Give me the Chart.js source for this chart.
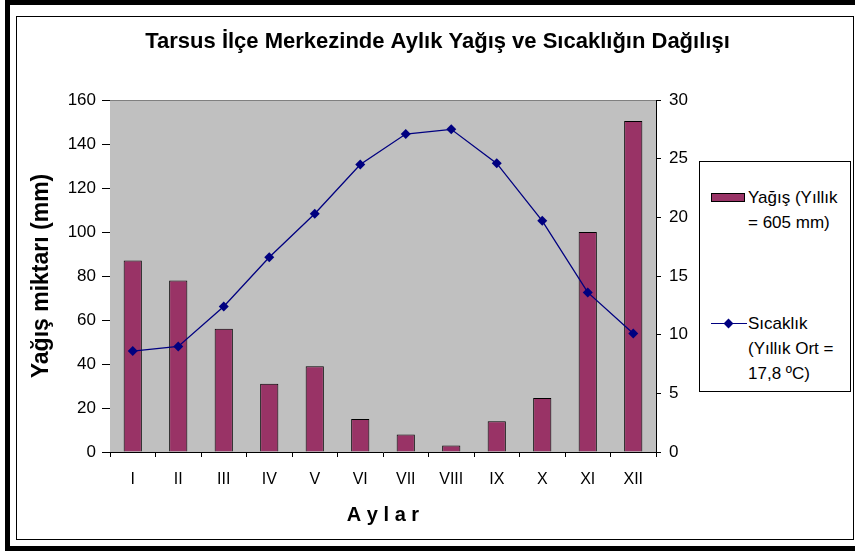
<!DOCTYPE html>
<html>
<head>
<meta charset="utf-8">
<script src="https://cdn.jsdelivr.net/npm/chart.js@4"></script>
<style>
  body { margin: 0; background: #fff; }
  #wrap { position: relative; width: 855px; height: 551px; overflow: hidden; font-family: "Liberation Sans", Arial, sans-serif; }
  #wrap canvas { position: absolute; left: 0; top: 0; }
  .frame-outer { position: absolute; left: 5px; top: 0; width: 855px; height: 551px; border: 5px solid #000; box-sizing: border-box; }
  .frame-inner { position: absolute; left: 16px; top: 16px; width: 838px; height: 524px; border: 1px solid #000; box-sizing: border-box; }
  #legend { position: absolute; left: 699px; top: 161px; width: 152px; height: 231px; border: 1px solid #000; box-sizing: border-box; background: #fff; }
  .lg-text { position: absolute; left: 48px; font-size: 17px; line-height: 25px; color: #000; white-space: nowrap; }
  .lg-swatch { position: absolute; left: 11px; width: 34px; height: 9px; background: #993366; border: 1px solid #000; box-sizing: border-box; }
  .lg-line { position: absolute; left: 11px; width: 36px; height: 1px; background: #000080; }
  .lg-dot { position: absolute; width: 7px; height: 7px; background: #000080; transform: rotate(45deg); }
</style>
</head>
<body>
<div id="wrap">
  <canvas id="chart" width="855" height="551"></canvas>
  <div class="frame-outer"></div>
  <div class="frame-inner"></div>
  <div id="legend">
    <div class="lg-swatch" style="top:31px"></div>
    <div class="lg-text" style="top:23px">Yağış (Yıllık<br>= 605 mm)</div>
    <div class="lg-line" style="top:161px"></div>
    <div class="lg-dot" style="left:25px; top:158px"></div>
    <div class="lg-text" style="top:149px">Sıcaklık<br>(Yıllık Ort =<br>17,8 ºC)</div>
  </div>
</div>
<script>
// aylar
const months = ['I', 'II', 'III', 'IV', 'V', 'VI', 'VII', 'VIII', 'IX', 'X', 'XI', 'XII'];

// yağış (mm)
const yagis = [87, 78, 56, 31, 39, 15, 8, 3, 14, 24.5, 100, 150.5];

// sıcaklık (°C)
const sicaklik = [8.6, 9.0, 12.4, 16.6, 20.3, 24.5, 27.1, 27.5, 24.6, 19.7, 13.6, 10.1];

const FONT = "'Liberation Sans', Arial, sans-serif";

const plotBg = {
    id: "plotBg",
    beforeDatasetsDraw(chart) {
        const { ctx, chartArea: a } = chart;
        ctx.save();
        ctx.fillStyle = "#c0c0c0";
        ctx.fillRect(a.left, a.top, a.right - a.left, a.bottom - a.top);
        ctx.strokeStyle = "#808080";
        ctx.lineWidth = 1;
        ctx.beginPath();
        ctx.moveTo(a.left, a.top + 0.5);
        ctx.lineTo(a.right, a.top + 0.5);
        ctx.stroke();
        ctx.restore();
    }
};

new Chart(document.getElementById("chart"), {
    data: {
        labels: months,
        datasets: [
            {
                type: "line",
                label: "Sıcaklık",
                data: sicaklik,
                yAxisID: "y1",
                borderColor: "#000080",
                borderWidth: 1.3,
                backgroundColor: "#000080",
                pointStyle: "rectRot",
                pointRadius: 5,
                pointBorderWidth: 0,
                tension: 0,
                order: 0
            },
            {
                type: "bar",
                label: "Yağış",
                data: yagis,
                yAxisID: "y",
                backgroundColor: "#993366",
                borderColor: "#000",
                borderWidth: 1,
                barPercentage: 0.4,
                categoryPercentage: 1,
                order: 1
            }
        ]
    },
    options: {
        responsive: false,
        animation: false,
        devicePixelRatio: 1,
        layout: { padding: { left: 20, right: 0, top: 16, bottom: 20 } },
        plugins: {
            legend: { display: false },
            tooltip: { enabled: false },
            title: {
                display: true,
                text: "Tarsus İlçe Merkezinde Aylık Yağış ve Sıcaklığın Dağılışı",
                color: "#000",
                font: { family: FONT, size: 22, weight: "bold" },
                padding: { top: 13, bottom: 44.6 }
            }
        },
        scales: {
            x: {
                grid: { offset: true, drawOnChartArea: false, tickLength: 5, color: "#000", tickColor: "#000" },
                border: { color: "#000" },
                ticks: { color: "#000", font: { family: FONT, size: 16 }, padding: 13, maxRotation: 0 },
                title: { display: true, text: "A y l a r", color: "#000", font: { family: FONT, size: 20, weight: "bold" }, padding: { top: 0, bottom: 4 } },
                afterFit: (s) => { s.height = 79; }
            },
            y: {
                position: "left",
                min: 0, max: 160,
                ticks: { stepSize: 20, color: "#000", font: { family: FONT, size: 17 }, padding: 6 },
                grid: { drawOnChartArea: false, tickLength: 8, tickColor: "#000" },
                border: { color: "#000" },
                title: { display: true, text: "Yağış miktarı (mm)", color: "#000", font: { family: FONT, size: 23, weight: "bold" }, padding: { top: 8, bottom: 0 } },
                afterFit: (s) => { s.width = 90; }
            },
            y1: {
                position: "right",
                min: 0, max: 30,
                ticks: { stepSize: 5, color: "#000", font: { family: FONT, size: 17 }, padding: 8 },
                grid: { drawOnChartArea: false, tickLength: 5, tickColor: "#000" },
                border: { color: "#000" },
                afterFit: (s) => { s.width = 199; }
            }
        }
    },
    plugins: [plotBg]
});
</script>
</body>
</html>
